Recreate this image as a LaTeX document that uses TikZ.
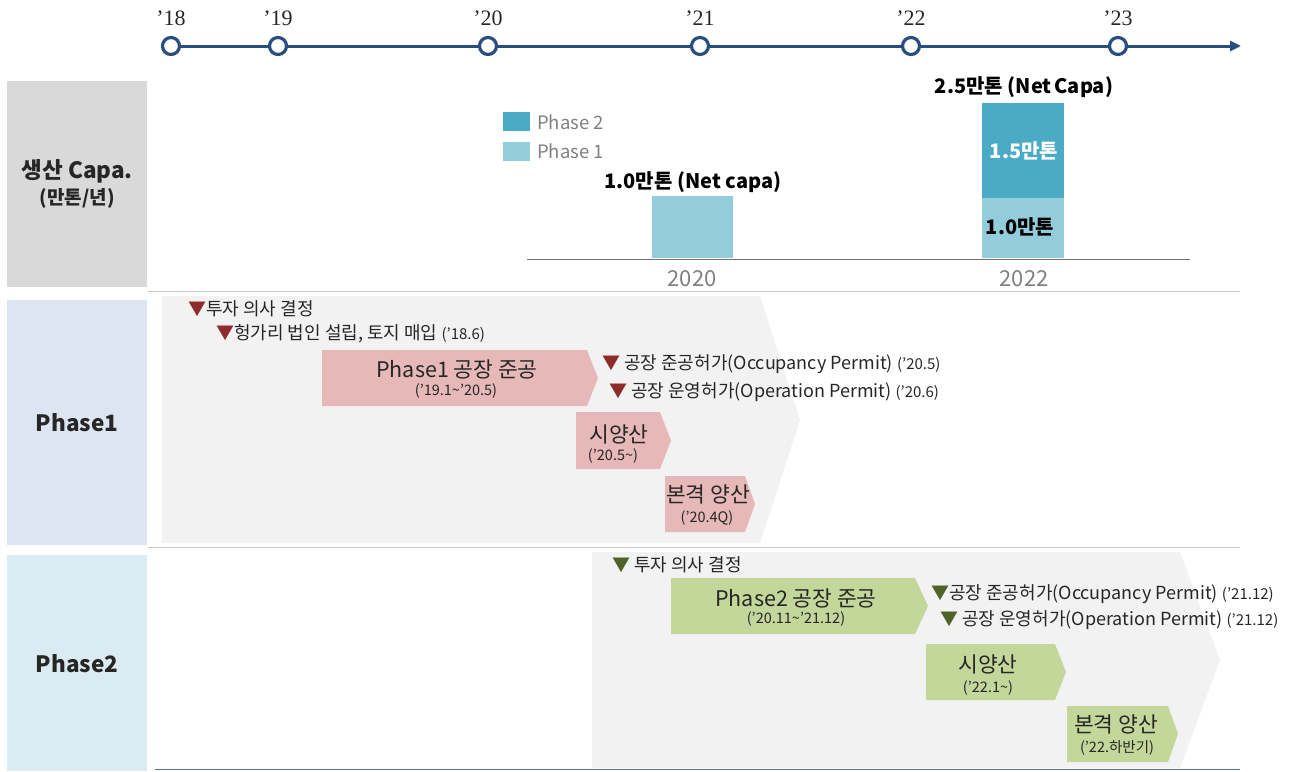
\documentclass[tikz,border=0pt]{standalone}
\usepackage{fontspec}
\setmainfont{Noto Sans CJK KR}
\newfontfamily\yrfont{Liberation Serif}
\usetikzlibrary{arrows.meta}
\definecolor{tlblue}{HTML}{2A4D7F}
\definecolor{capagray}{HTML}{D9D9D9}
\definecolor{ph1box}{HTML}{DCE5F1}
\definecolor{ph2box}{HTML}{DAEBF2}
\definecolor{bglight}{HTML}{F2F2F2}
\definecolor{pinkc}{HTML}{E6B8B7}
\definecolor{greenc}{HTML}{C4D79B}
\definecolor{redtri}{HTML}{8E2B2B}
\definecolor{greentri}{HTML}{4F6228}
\definecolor{barlight}{HTML}{93CDDC}
\definecolor{bardark}{HTML}{4BABC6}
\definecolor{txtgray}{HTML}{808080}
\definecolor{txt}{HTML}{262626}
\newcommand\fs[1]{\fontsize{#1}{#1}\selectfont}
\newcommand\chevpath[6]{\fill[#6] (#1,#2) -- (#3,#2) -- ({#3+#5},{(#2+#4)/2}) -- (#3,#4) -- (#1,#4) -- cycle;}
\tikzset{
  yrdot/.style={circle, draw=tlblue, line width=3.2pt, fill=white, minimum size=17pt, inner sep=0pt},
  yrlab/.style={font=\yrfont\fs{22}, text=txt, inner sep=0pt},
  headbox/.style={anchor=north west, minimum width=140pt, inner sep=0pt, align=center, font=\bfseries\fs{22.5}, text=txt},
  bullet/.style={anchor=west, inner sep=0pt, font=\fs{18}, text=txt},
  chtitle/.style={inner sep=0pt, font=\fs{21.5}, text=txt},
  chdate/.style={inner sep=0pt, font=\fs{14.5}, text=txt},
  barlab/.style={inner sep=0pt, font=\bfseries\fs{20}, text=black},
  legtxt/.style={anchor=west, inner sep=0pt, font=\fs{18.5}, text=txtgray},
  sepline/.style={draw=black!22, line width=1pt},
}
\begin{document}
\begin{tikzpicture}[x=1pt,y=-1pt]
\useasboundingbox (0,0) rectangle (1293,771);
% timeline
\coordinate (tlstart) at (170,46);
\coordinate (tlend) at (1241,46);
\draw[tlblue, line width=3pt, -{Triangle[length=11pt,width=10pt]}] (tlstart) -- (tlend);
\foreach \x/\y/\n in {171/18/18, 278/19/19, 488/20/20, 700/21/21, 911/22/22, 1118/23/23}{
  \node[yrdot] (d\n) at (\x,46) {};
  \node[yrlab] (l\n) at (\x,18) {’\y};
}
% left headers
\node[headbox, fill=capagray, minimum height=206pt] (hcapa) at (7,81) {생산 Capa.\\[3pt]{\fs{19}(만톤/년)}};
\node[headbox, fill=ph1box, minimum height=245pt] (hph1) at (7,300) {Phase1};
\node[headbox, fill=ph2box, minimum height=216pt] (hph2) at (7,555) {Phase2};
% separators
\draw[sepline] (148,291) -- (1240,291);
\draw[sepline] (148,547) -- (1240,547);
\draw[draw=tlblue!80, line width=1pt] (155,769.5) -- (1240,769.5);
% chart
\draw[draw=black!55, line width=1pt] (527,259) -- (1190,259);
\node[inner sep=0pt, font=\fs{22}, text=txtgray] (ax20) at (692,279) {2020};
\node[inner sep=0pt, font=\fs{22}, text=txtgray] (ax22) at (1024,279) {2022};
\node[anchor=south west, inner sep=0pt, minimum width=81pt, minimum height=62pt, fill=barlight] (b20) at (652,258.5) {};
\node[anchor=south west, inner sep=0pt, minimum width=82pt, minimum height=61pt, fill=barlight] (b22a) at (982,258.5) {};
\node[anchor=south west, inner sep=0pt, minimum width=82pt, minimum height=95pt, fill=bardark] (b22b) at (982,198) {};
\node[barlab] (v20) at (693,182) {1.0만톤 (Net capa)};
\node[barlab] (v22) at (1024,87) {2.5만톤 (Net\hspace{0.15em}Capa)};
\node[barlab, text=white] (v22b) at (1024,151) {1.5만톤};
\node[barlab] (v22a) at (1020,227) {1.0만톤};
\node[anchor=north west, inner sep=0pt, minimum width=27pt, minimum height=19pt, fill=bardark] (lg2) at (503,112) {};
\node[anchor=north west, inner sep=0pt, minimum width=27pt, minimum height=19pt, fill=barlight] (lg1) at (503,142) {};
\node[legtxt] (lt2) at (537,122) {Phase 2};
\node[legtxt] (lt1) at (537,151) {Phase 1};
% phase 1 background
\fill[bglight] (162,296) -- (760,296) -- (800,420) -- (760,543) -- (162,543) -- cycle;
\node[bullet] (p1a) at (188,309) {\textcolor{redtri}{▼}투자 의사 결정};
\node[bullet] (p1b) at (216,334) {\textcolor{redtri}{▼}헝가리 법인 설립, 토지 매입 {\fs{15}(’18.6)}};
\chevpath{322}{350}{587}{406}{11}{pinkc}
\node[chtitle] (p1c) at (457,369) {Phase1 공장 준공};
\node[chdate] (p1cd) at (456,391) {(’19.1\textasciitilde’20.5)};
\node[bullet] (p1d) at (602,364) {\textcolor{redtri}{▼} 공장 준공허가(Occupancy Permit) {\fs{15}(’20.5)}};
\node[bullet] (p1e) at (609,392) {\textcolor{redtri}{▼} 공장 운영허가(Operation Permit) {\fs{15}(’20.6)}};
\chevpath{576}{412}{660}{469}{11}{pinkc}
\node[chtitle] (p1f) at (619,434) {시양산};
\node[chdate] (p1fd) at (613,456) {(’20.5\textasciitilde)};
\chevpath{665}{476}{745}{532}{10}{pinkc}
\node[chtitle] (p1g) at (708,494) {본격 양산};
\node[chdate] (p1gd) at (707,518) {(’20.4Q)};
% phase 2 background
\fill[bglight] (592,552) -- (1180,552) -- (1220,660) -- (1180,768) -- (592,768) -- cycle;
\node[bullet] (p2a) at (612,565) {\textcolor{greentri}{▼} 투자 의사 결정};
\chevpath{671}{578}{915}{634}{13}{greenc}
\node[chtitle] (p2c) at (796,598) {Phase2 공장 준공};
\node[chdate] (p2cd) at (796,619) {(’20.11\textasciitilde’21.12)};
\node[bullet] (p2d) at (931,594) {\textcolor{greentri}{▼}공장 준공허가(Occupancy Permit) {\fs{15}(’21.12)}};
\node[bullet] (p2e) at (940,620) {\textcolor{greentri}{▼} 공장 운영허가(Operation Permit) {\fs{15}(’21.12)}};
\chevpath{926}{644}{1055}{700}{11}{greenc}
\node[chtitle] (p2f) at (988,664) {시양산};
\node[chdate] (p2fd) at (988,688) {(’22.1\textasciitilde)};
\chevpath{1067}{706}{1168}{762}{10}{greenc}
\node[chtitle] (p2g) at (1116,724) {본격 양산};
\node[chdate] (p2gd) at (1117,748) {(’22.하반기)};
\end{tikzpicture}
\end{document}
